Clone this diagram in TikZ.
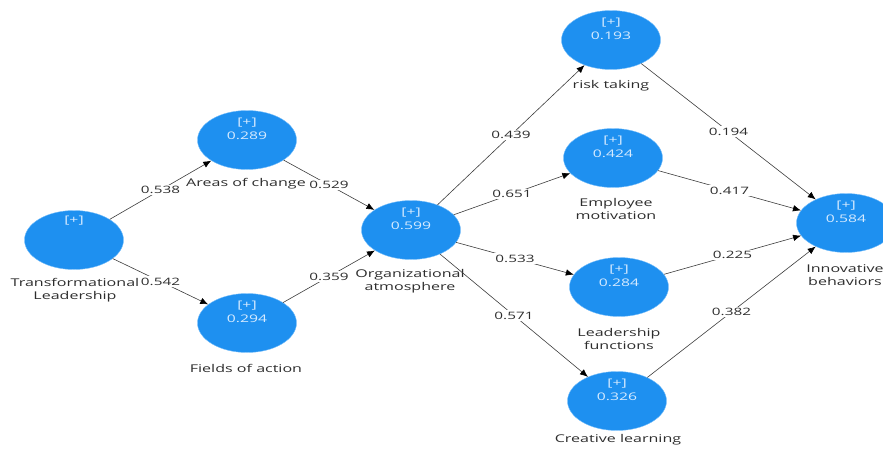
\documentclass[tikz,border=0pt]{standalone}
\usepackage{fontspec}
\setmainfont{Open Sans}[FakeStretch=1.5]
\usetikzlibrary{shapes.geometric, arrows.meta}
\definecolor{plsblue}{RGB}{30,144,240}
\definecolor{plsrim}{RGB}{120,190,250}
\definecolor{plsgray}{RGB}{45,45,45}
\definecolor{plsline}{RGB}{60,60,60}
\definecolor{plsin}{RGB}{215,235,255}

\begin{document}
\begin{tikzpicture}[x=1pt, y=-1pt,
  main/.style = {draw=plsrim, fill=plsblue, ellipse, minimum width=99pt, minimum height=59pt, inner sep=0pt},
  intext/.style = {text=plsin, align=center, font=\fontsize{10.5}{14}\selectfont, yshift=11pt},
  cname/.style = {text=plsgray, align=center, font=\fontsize{10.7}{13}\selectfont},
  link/.style = {draw=plsline, -{Latex[length=8pt, width=6.5pt, black]}, semithick},
  coef/.style = {fill=white, text=plsgray, inner sep=1.5pt, font=\fontsize{10.2}{12}\selectfont}]
	\useasboundingbox (0,0) rectangle (883,450);
	% constructs
	\node[main, label={[intext, yshift=8pt]center:[+]}] (TL) at (74,240) {};
	\node[main, label={[intext]center:{[+]\\0.289}}] (AC) at (247,140) {};
	\node[main, label={[intext]center:{[+]\\0.294}}] (FA) at (247,323) {};
	\node[main, label={[intext]center:{[+]\\0.599}}] (OA) at (411,230) {};
	\node[main, label={[intext]center:{[+]\\0.193}}] (RT) at (611,40) {};
	\node[main, label={[intext]center:{[+]\\0.424}}] (EM) at (613,158) {};
	\node[main, label={[intext]center:{[+]\\0.284}}] (LF) at (619,287) {};
	\node[main, label={[intext]center:{[+]\\0.326}}] (CL) at (617,401) {};
	\node[main, label={[intext]center:{[+]\\0.584}}] (IB) at (846,223) {};
	% names
	\node[cname] (TLname) at (75,290) {Transformational\\Leadership};
	\node[cname] (ACname) at (246,184) {Areas of change};
	\node[cname] (FAname) at (246,368) {Fields of action};
	\node[cname] (OAname) at (410,281) {Organizational\\atmosphere};
	\node[cname] (RTname) at (611,86) {risk taking};
	\node[cname] (EMname) at (616,209) {Employee\\motivation};
	\node[cname] (LFname) at (619,339) {Leadership\\functions};
	\node[cname] (CLname) at (618,440) {Creative learning};
	\node[cname] (IBname) at (845,275) {Innovative\\behaviors};
	% paths
	\draw[link] (TL) -- node[coef] {0.538} (AC);
	\draw[link] (TL) -- node[coef] {0.542} (FA);
	\draw[link] (AC) -- node[coef] {0.529} (OA);
	\draw[link] (FA) -- node[coef] {0.359} (OA);
	\draw[link] (OA) -- node[coef] {0.439} (RT);
	\draw[link] (OA) -- node[coef] {0.651} (EM);
	\draw[link] (OA) -- node[coef] {0.533} (LF);
	\draw[link] (OA) -- node[coef] {0.571} (CL);
	\draw[link] (RT) -- node[coef] {0.194} (IB);
	\draw[link] (EM) -- node[coef] {0.417} (IB);
	\draw[link] (LF) -- node[coef] {0.225} (IB);
	\draw[link] (CL) -- node[coef] {0.382} (IB);
\end{tikzpicture}
\end{document}
